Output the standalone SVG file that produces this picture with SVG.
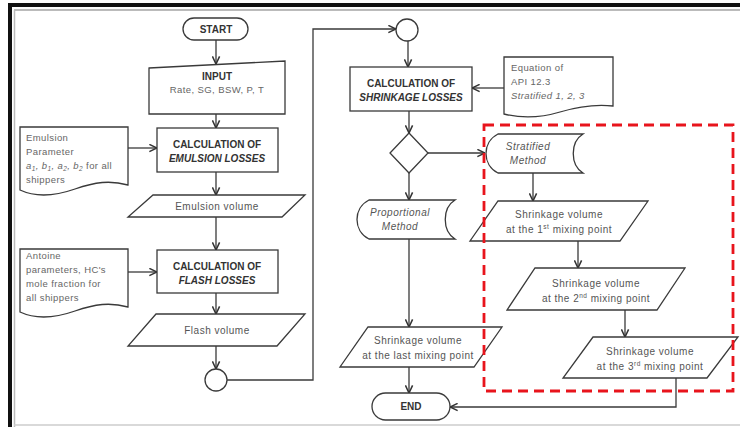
<svg xmlns="http://www.w3.org/2000/svg" width="740" height="427" viewBox="0 0 740 427">
<style>
.shape{fill:#fff;stroke:#3a3a3a;stroke-width:1.3}
.con{fill:none;stroke:#3a3a3a;stroke-width:1.3}
.t{font-family:"Liberation Sans",Arial,sans-serif;font-size:10px;fill:#555;letter-spacing:0.5px}
.b{font-family:"Liberation Sans",Arial,sans-serif;font-size:10px;font-weight:bold;fill:#333}
.s{font-family:"Liberation Sans",Arial,sans-serif;font-size:9.5px;fill:#666;letter-spacing:0.4px}
.c{text-anchor:middle}
.i{font-style:italic}
</style>
<defs>
<marker id="ah" viewBox="0 0 10 10" refX="9.5" refY="5" markerWidth="9" markerHeight="9" markerUnits="userSpaceOnUse" orient="auto">
<path d="M1,1 L9.5,5 L1,9" fill="none" stroke="#333" stroke-width="1.7"/>
</marker>
</defs>
<rect width="740" height="427" fill="#fff"/>
<g id="frame">
<line x1="8" y1="5" x2="740" y2="5" stroke="#111" stroke-width="4"/>
<line x1="10" y1="3" x2="10" y2="427" stroke="#111" stroke-width="4"/>
<line x1="14" y1="10" x2="740" y2="10" stroke="#bbb" stroke-width="2"/>
<line x1="14.5" y1="10" x2="14.5" y2="427" stroke="#bbb" stroke-width="1.5"/>
<line x1="14" y1="425" x2="740" y2="425" stroke="#ccc" stroke-width="1.5"/>
</g>
<g id="connectors">
<path class="con" marker-end="url(#ah)" d="M216,40 V64"/>
<path class="con" marker-end="url(#ah)" d="M216,114 V128"/>
<path class="con" marker-end="url(#ah)" d="M128,148 H157"/>
<path class="con" marker-end="url(#ah)" d="M216,172 V195"/>
<path class="con" marker-end="url(#ah)" d="M216,217 V250"/>
<path class="con" marker-end="url(#ah)" d="M128,272 H157"/>
<path class="con" marker-end="url(#ah)" d="M216,293 V314"/>
<path class="con" marker-end="url(#ah)" d="M216,346 V369"/>
<path class="con" marker-end="url(#ah)" d="M227,380 H313 V29 H396"/>
<path class="con" marker-end="url(#ah)" d="M408,41 V67"/>
<path class="con" marker-end="url(#ah)" d="M504,88 H472"/>
<path class="con" marker-end="url(#ah)" d="M409,111 V133"/>
<path class="con" marker-end="url(#ah)" d="M428,153 H485"/>
<path class="con" marker-end="url(#ah)" d="M409,173 V200"/>
<path class="con" marker-end="url(#ah)" d="M409,239 V327"/>
<path class="con" marker-end="url(#ah)" d="M409,367 V393"/>
<path class="con" marker-end="url(#ah)" d="M533,173 V201"/>
<path class="con" marker-end="url(#ah)" d="M578,241 V268"/>
<path class="con" marker-end="url(#ah)" d="M625,310 V337"/>
<path class="con" marker-end="url(#ah)" d="M676,378 V407 H450"/>
</g>
<g id="start">
<rect class="shape" x="183" y="18" width="65" height="22" rx="11"/>
<text class="b c" x="216" y="33" font-size="9">START</text>
</g>
<g id="input">
<path class="shape" d="M149,68 L285,61 V114 H149 Z"/>
<text class="b c" x="217" y="80">INPUT</text>
<text class="s c" x="217" y="93">Rate, SG, BSW, P, T</text>
</g>
<g id="calc-emulsion">
<rect class="shape" x="157" y="128" width="121" height="44"/>
<text class="b c" x="217" y="148">CALCULATION OF</text>
<text class="b c i" x="217" y="162">EMULSION LOSSES</text>
</g>
<g id="emulsion-param">
<path class="shape" d="M20,127 H128 V185 C110,180 95,182 75,189 C55,196 35,197 20,190 Z"/>
<text class="s" x="26" y="141">Emulsion</text>
<text class="s" x="26" y="155">Parameter</text>
<text class="s" x="26" y="169"><tspan class="i">a<tspan font-size="6.5" dy="2">1</tspan><tspan dy="-2">, b</tspan><tspan font-size="6.5" dy="2">1</tspan><tspan dy="-2">, a</tspan><tspan font-size="6.5" dy="2">2</tspan><tspan dy="-2">, b</tspan><tspan font-size="6.5" dy="2">2</tspan></tspan><tspan dy="-2"> for all</tspan></text>
<text class="s" x="26" y="183">shippers</text>
</g>
<g id="emulsion-volume">
<path class="shape" d="M153,195 H305 L282,217 H128 Z"/>
<text class="t c" x="217" y="210">Emulsion volume</text>
</g>
<g id="calc-flash">
<rect class="shape" x="157" y="250" width="121" height="43"/>
<text class="b c" x="217" y="270">CALCULATION OF</text>
<text class="b c i" x="217" y="284">FLASH LOSSES</text>
</g>
<g id="antoine">
<path class="shape" d="M20,249 H128 V307 C110,302 95,304 75,311 C55,318 35,319 20,312 Z"/>
<text class="s" x="26" y="259">Antoine</text>
<text class="s" x="26" y="273">parameters, HC's</text>
<text class="s" x="26" y="287">mole fraction for</text>
<text class="s" x="26" y="301">all shippers</text>
</g>
<g id="flash-volume">
<path class="shape" d="M156,314 H305 L277,346 H128 Z"/>
<text class="t c" x="217" y="334">Flash volume</text>
</g>
<g id="connector-a">
<circle class="shape" cx="216" cy="380" r="11"/>
</g>
<g id="connector-b">
<circle class="shape" cx="407" cy="30" r="11"/>
</g>
<g id="calc-shrinkage">
<rect class="shape" x="350" y="67" width="122" height="44"/>
<text class="b c" x="411" y="87">CALCULATION OF</text>
<text class="b c i" x="411" y="101">SHRINKAGE LOSSES</text>
</g>
<g id="equation">
<path class="shape" d="M504,57 H613 V106 C595,104 580,106 560,112 C540,118 520,118 504,114 Z"/>
<text class="s" x="511" y="71">Equation of</text>
<text class="s" x="511" y="85">API 12.3</text>
<text class="s i" x="511" y="99">Stratified 1, 2, 3</text>
</g>
<g id="decision">
<path class="shape" d="M409,133 L428,153 L409,173 L390,153 Z"/>
</g>
<g id="stratified">
<path class="shape" d="M498,134 H583 C570,142 570,165 583,173 H498 C482,165 482,142 498,134 Z"/>
<text class="t c i" x="528" y="150">Stratified</text>
<text class="t c i" x="528" y="164">Method</text>
</g>
<g id="proportional">
<path class="shape" d="M369,200 H455 C442,208 442,231 455,239 H369 C353,231 353,208 369,200 Z"/>
<text class="t c i" x="400" y="216">Proportional</text>
<text class="t c i" x="400" y="230">Method</text>
</g>
<g id="shrink-1">
<path class="shape" d="M498,201 H648 L620,241 H470 Z"/>
<text class="t c" x="559" y="218">Shrinkage volume</text>
<text class="t c" x="559" y="233">at the 1<tspan font-size="6.5" dy="-4">st</tspan><tspan dy="4"> mixing point</tspan></text>
</g>
<g id="shrink-2">
<path class="shape" d="M535,268 H685 L657,310 H507 Z"/>
<text class="t c" x="596" y="287">Shrinkage volume</text>
<text class="t c" x="596" y="302">at the 2<tspan font-size="6.5" dy="-4">nd</tspan><tspan dy="4"> mixing point</tspan></text>
</g>
<g id="shrink-3">
<path class="shape" d="M593,337 H738 L707,378 H563 Z"/>
<text class="t c" x="650" y="355">Shrinkage volume</text>
<text class="t c" x="650" y="370">at the 3<tspan font-size="6.5" dy="-4">rd</tspan><tspan dy="4"> mixing point</tspan></text>
</g>
<g id="shrink-last">
<path class="shape" d="M368,327 H502 L474,367 H340 Z"/>
<text class="t c" x="418" y="344">Shrinkage volume</text>
<text class="t c" x="418" y="359">at the last mixing point</text>
</g>
<g id="end">
<rect class="shape" x="372" y="393" width="78" height="27" rx="13.5"/>
<text class="b c" x="411" y="410" font-weight="normal">END</text>
</g>
<g id="stratified-region">
<rect x="484" y="125" width="249" height="266" fill="none" stroke="#e8141c" stroke-width="2.8" stroke-dasharray="10,6"/>
</g>
</svg>
